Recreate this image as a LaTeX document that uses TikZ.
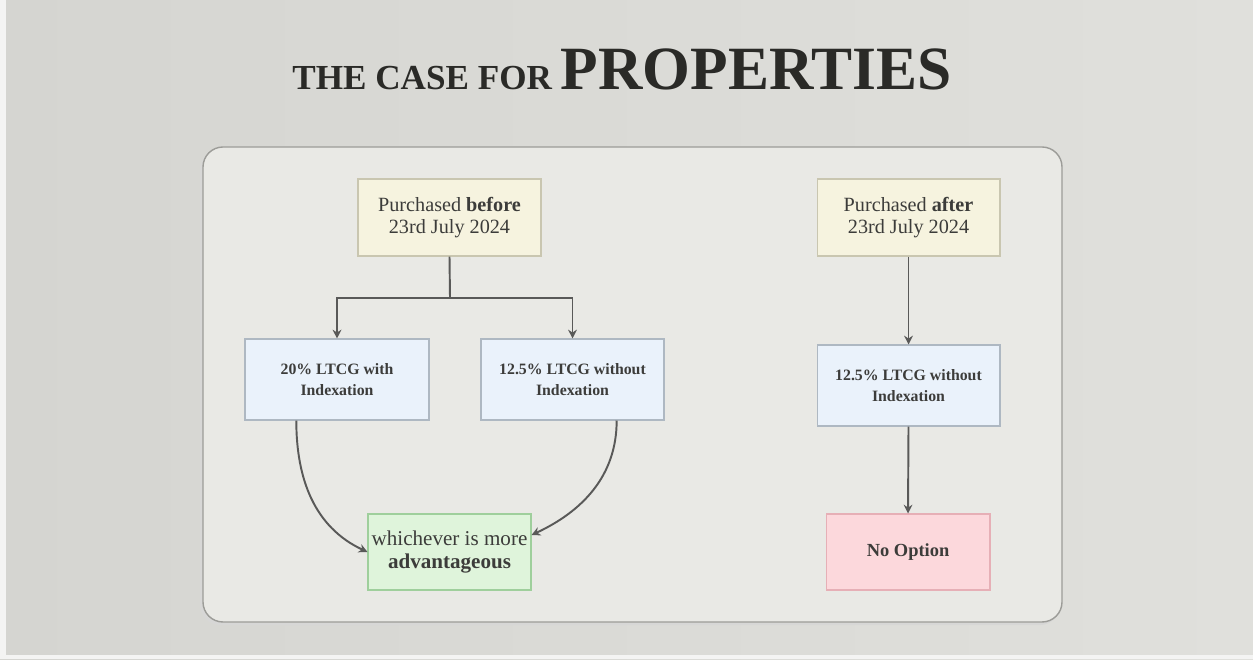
\documentclass[tikz,border=0pt]{standalone}
\usepackage{fontspec}
\setmainfont{Liberation Serif}
\usepackage{xcolor}
\usepackage{tikz}
\usetikzlibrary{calc,arrows.meta}
\definecolor{bg}{HTML}{DAD9D5}
\definecolor{bgleft}{HTML}{D5D5D1}
\definecolor{bgright}{HTML}{E0E0DC}
\definecolor{panel}{HTML}{E9E9E5}
\definecolor{rim}{HTML}{9C9C98}
\definecolor{ink}{HTML}{3C3C3A}
\definecolor{titleink}{HTML}{2A2A27}
\definecolor{cream}{HTML}{F6F3DF}
\definecolor{creamrim}{HTML}{C9C6B0}
\definecolor{sky}{HTML}{EAF2FB}
\definecolor{skyrim}{HTML}{AEB8C2}
\definecolor{mint}{HTML}{DFF4DB}
\definecolor{mintrim}{HTML}{9FCF9C}
\definecolor{rose}{HTML}{FCD8DC}
\definecolor{roserim}{HTML}{E6AFB6}
\tikzset{
  box/.style={draw, line width=0.6pt, text=ink, align=center, inner sep=2pt},
  datebox/.style={box, fill=cream, draw=creamrim, minimum width=3.66cm, minimum height=1.54cm,
    font=\fontsize{11.5}{12.5}\selectfont},
  taxbox/.style={box, fill=sky, draw=skyrim, minimum width=3.68cm, minimum height=1.62cm,
    font=\fontsize{9}{11.5}\selectfont\bfseries},
  goodbox/.style={box, fill=mint, draw=mintrim, minimum width=3.26cm, minimum height=1.52cm,
    font=\fontsize{12}{13.5}\selectfont},
  badbox/.style={box, fill=rose, draw=roserim, minimum width=3.28cm, minimum height=1.52cm,
    font=\fontsize{10.5}{12}\selectfont\bfseries},
  flow/.style={draw=ink!85, line width=1.1pt, -{Stealth[length=5pt,width=5pt]}},
  wire/.style={draw=ink!85, line width=1.1pt}
}

\begin{document}
\begin{tikzpicture}[x=0.02cm, y=0.02cm]
  \useasboundingbox (0,0) rectangle (1253,659);
  \shade[left color=bgleft, right color=bgright] (0,0) rectangle (1253,659);
  \fill[white!70!bg] (0,0) rectangle (6,659);
  \fill[white!70!bg] (0,0) rectangle (1253,4);

  % panel
  \fill[rim!40, rounded corners=0.4cm] (200,34) rectangle (1060,510);
  \draw[rim, line width=0.8pt, fill=panel, rounded corners=0.4cm] (203,37) rectangle (1062,512);

  % title
  \node[anchor=base, text=titleink, inner sep=0pt] (title) at (622,569)
    {\fontsize{20}{20}\selectfont\bfseries THE CASE FOR\ \fontsize{35}{35}\selectfont PROPERTIES};

  % before branch
  \node[datebox] (before) at (449.5,441.5) {Purchased \textbf{before}\\23rd July 2024};
  \coordinate (split) at (450,361);
  \node[taxbox] (withidx) at (337,279.5) {20\% LTCG with\\Indexation};
  \node[taxbox, minimum width=3.66cm] (noidx) at (572.5,279.5) {12.5\% LTCG without\\Indexation};
  \node[goodbox] (best) at (449.5,107) {whichever is more\\\textbf{advantageous}};

  \draw[wire] (before.south) -- (split);
  \draw[flow] (split) -| (withidx.north);
  \draw[flow] (split) -| (noidx.north);
  \draw[flow] ($(withidx.south west)!0.28!(withidx.south east)$) to[out=-90, in=155] (best.west);
  \draw[flow] ($(noidx.south west)!0.74!(noidx.south east)$) to[out=-90, in=25]
    ($(best.north east)!0.28!(best.south east)$);

  % after branch
  \node[datebox] (after) at (908.5,441.5) {Purchased \textbf{after}\\23rd July 2024};
  \node[taxbox, minimum width=3.66cm] (newtax) at (908.5,273.5) {12.5\% LTCG without\\Indexation};
  \node[badbox] (none) at (908,107) {No Option};

  \draw[flow] (after.south) -- (newtax.north);
  \draw[flow] (newtax.south) -- (none.north);
\end{tikzpicture}
\end{document}
